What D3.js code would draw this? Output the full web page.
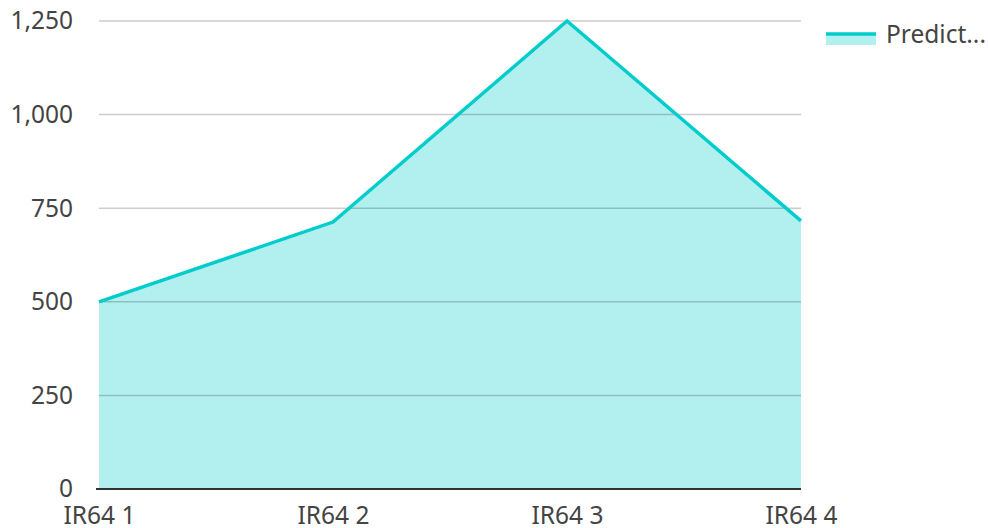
<!DOCTYPE html>
<html>
<head>
<meta charset="utf-8">
<script src="https://cdn.jsdelivr.net/npm/d3@7"></script>
<style>
  body { margin: 0; background: #fff; }
  svg { display: block; font-family: "Noto Sans", sans-serif; }
</style>
</head>
<body>
<svg id="chart" width="988" height="528"></svg>
<script>
var categories = ["IR64 1", "IR64 2", "IR64 3", "IR64 4"];
var predicted = [500, 713, 1250, 716];
var yTicks = [0, 250, 500, 750, 1000, 1250];
var seriesName = "Predicted";

(function() {
  var svg = d3.select("#chart");
  var plotLeft = 99, plotRight = 801, plotTop = 21, plotBottom = 489;
  var fontSize = 24.5;

  var x = d3.scalePoint().domain(categories).range([plotLeft, plotRight]);
  var y = d3.scaleLinear().domain([0, 1250]).range([plotBottom, plotTop]);

  var data = categories.map(function(c, i) { return { cat: c, v: predicted[i] }; });

  // area fill
  var area = d3.area()
    .x(function(d) { return x(d.cat); })
    .y0(y(0))
    .y1(function(d) { return y(d.v); });
  svg.append("path").datum(data)
    .attr("d", area)
    .attr("fill", "#b2efef");

  // gridlines over the fill
  svg.append("g").selectAll("line").data(yTicks.filter(function(t) { return t > 0; }))
    .enter().append("line")
    .attr("x1", plotLeft).attr("x2", plotRight)
    .attr("y1", function(d) { return y(d); }).attr("y2", function(d) { return y(d); })
    .attr("stroke", "#000").attr("stroke-opacity", 0.2).attr("stroke-width", 1.5);

  // line
  var line = d3.line()
    .x(function(d) { return x(d.cat); })
    .y(function(d) { return y(d.v); });
  svg.append("path").datum(data)
    .attr("d", line)
    .attr("fill", "none")
    .attr("stroke", "#00cccc")
    .attr("stroke-width", 3.5);

  // baseline
  svg.append("line")
    .attr("x1", plotLeft - 3).attr("x2", plotRight)
    .attr("y1", y(0)).attr("y2", y(0))
    .attr("stroke", "#333").attr("stroke-width", 2);

  // y axis labels
  var yAxis = d3.axisLeft(y).tickValues(yTicks).tickSize(0).tickPadding(26)
    .tickFormat(d3.format(","));
  var gy = svg.append("g").attr("transform", "translate(" + plotLeft + ",0)").call(yAxis);
  gy.select(".domain").remove();
  gy.selectAll("text").attr("font-size", fontSize).attr("fill", "#444")
    .attr("font-family", "Noto Sans");

  // x axis labels
  var xAxis = d3.axisBottom(x).tickSize(0).tickPadding(18);
  var gx = svg.append("g").attr("transform", "translate(0," + plotBottom + ")").call(xAxis);
  gx.select(".domain").remove();
  gx.selectAll("text").attr("font-size", fontSize).attr("fill", "#444")
    .attr("font-family", "Noto Sans");

  // legend
  var lg = svg.append("g").attr("transform", "translate(826,33)");
  lg.append("rect").attr("x", 0).attr("y", 0).attr("width", 50).attr("height", 12).attr("fill", "#b2efef");
  lg.append("line").attr("x1", 0).attr("x2", 50).attr("y1", 1).attr("y2", 1)
    .attr("stroke", "#00cccc").attr("stroke-width", 3.5);
  lg.append("text").attr("x", 60).attr("y", 10).attr("font-size", fontSize).attr("fill", "#444")
    .text(seriesName.slice(0, 7) + "...");
})();
</script>
</body>
</html>
